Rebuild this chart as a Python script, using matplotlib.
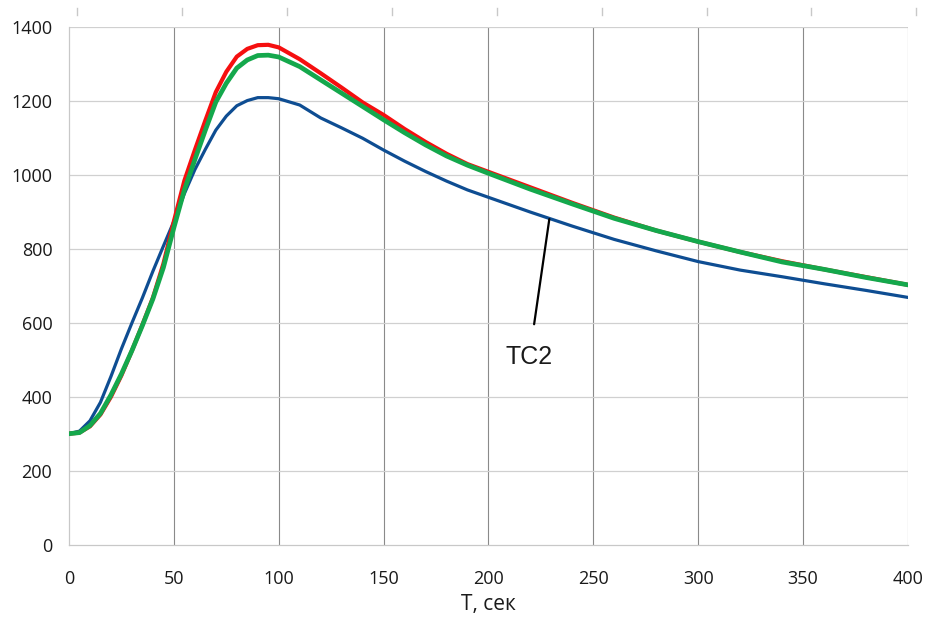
import matplotlib
matplotlib.use("Agg")
import matplotlib.pyplot as plt
import matplotlib.transforms as mtransforms

# Time axis, seconds
t = [0, 5, 10, 15, 20, 25, 30, 35, 40, 45, 50, 55, 60, 65, 70, 75, 80, 85, 90, 95,
     100, 110, 120, 130, 140, 150, 160, 170, 180, 190, 200, 220, 240, 260, 280,
     300, 320, 340, 360, 380, 400]

# Thermocouple readings
tc2 = [300, 307, 335, 385, 455, 530, 600, 668, 740, 808, 875, 950, 1015, 1070, 1122, 1160,
       1188, 1202, 1210, 1210, 1207, 1190, 1155, 1128, 1100, 1068, 1038, 1010, 984, 960,
       940, 900, 862, 826, 795, 766, 743, 725, 706, 688, 669]
red_series = [300, 303, 320, 352, 400, 458, 525, 595, 668, 760, 875, 985, 1068, 1148, 1225,
              1280, 1321, 1342, 1352, 1353, 1346, 1314, 1276, 1237, 1197, 1163, 1125, 1090,
              1058, 1030, 1009, 967, 925, 885, 850, 820, 792, 767, 745, 724, 703]
green_series = [300, 303, 322, 355, 405, 462, 525, 593, 665, 750, 858, 960, 1042, 1122, 1198,
                1249, 1290, 1312, 1324, 1325, 1320, 1294, 1258, 1222, 1186, 1150, 1115, 1082,
                1052, 1027, 1005, 962, 922, 883, 850, 820, 792, 765, 745, 723, 703]

x_ticks = [0, 50, 100, 150, 200, 250, 300, 350, 400]
y_ticks = [0, 200, 400, 600, 800, 1000, 1200, 1400]

plt.rcParams['font.family'] = ['Open Sans', 'DejaVu Sans']

fig = plt.figure(figsize=(9.25, 6.17), dpi=100)
ax = fig.add_axes([0.0746, 0.1175, 0.907, 0.838])

ax.set_xlim(0, 400)
ax.set_ylim(0, 1400)
ax.set_xticks(x_ticks)
ax.set_yticks(y_ticks)

# grid: dark vertical lines, light horizontal lines
for xv in x_ticks[1:-1]:
    ax.axvline(xv, color='#8a8a8a', lw=0.8, zorder=0)
for yv in y_ticks[1:]:
    ax.axhline(yv, color='#d0d0d0', lw=0.9, zorder=0)
ax.axvline(400, color='#c8c8c8', lw=0.9, zorder=0)

for side in ['top', 'right']:
    ax.spines[side].set_visible(False)
for side in ['left', 'bottom']:
    ax.spines[side].set_color('#c8c8c8')
    ax.spines[side].set_linewidth(0.9)

ax.tick_params(axis='both', length=0, labelsize=13, colors='#1a1a1a')
ax.tick_params(axis='x', pad=18)
ax.tick_params(axis='y', pad=12)

ax.plot(t, tc2, color='#0E4D92', lw=2.3, zorder=3, solid_joinstyle='round')
ax.plot(t, red_series, color='#F50F0F', lw=3.0, zorder=4, solid_joinstyle='round')
ax.plot(t, green_series, color='#14A84C', lw=3.4, zorder=5, solid_joinstyle='round')

ax.set_xlabel('T, сек', fontsize=15, labelpad=5, color='#1a1a1a')

# small marks above the plot area
trans = mtransforms.blended_transform_factory(ax.transData, ax.transAxes)
for xm in [4, 54, 104, 154, 204, 254, 304, 354, 404]:
    ax.plot([xm, xm], [1.024, 1.037], transform=trans, color='#c8c8c8', lw=1.0, clip_on=False)

# TC2 label with leader line to the curve
ax.annotate('TC2', xy=(229, 881), xytext=(219.5, 508),
            fontsize=18, family=['Liberation Sans', 'DejaVu Sans'],
            ha='center', va='center', color='#1a1a1a',
            arrowprops=dict(arrowstyle='-', color='black', lw=1.6,
                            shrinkA=13, shrinkB=0), zorder=6)

fig.savefig('out.png', dpi=100)
